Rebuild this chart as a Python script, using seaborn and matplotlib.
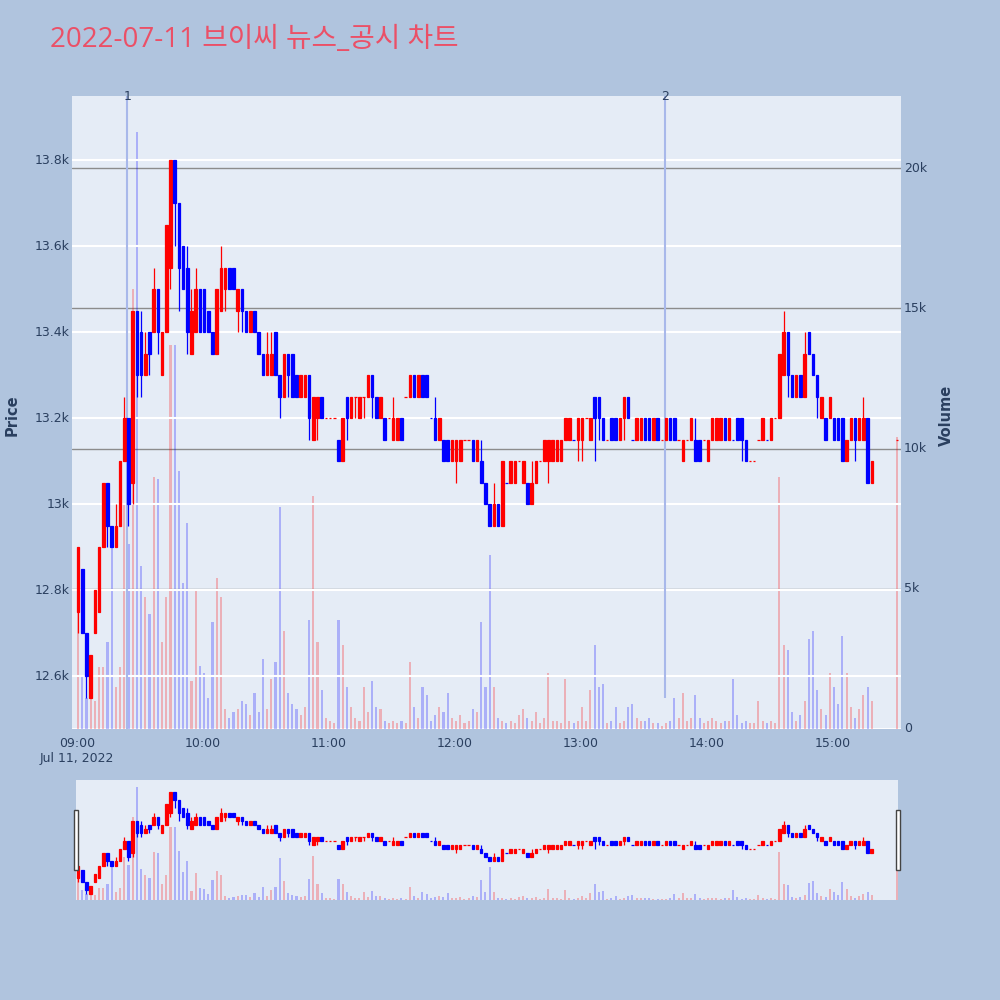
import matplotlib
matplotlib.use('Agg')
import matplotlib.pyplot as plt
from matplotlib.patches import Rectangle
import seaborn as sns

title = '2022-07-11 브이씨 뉴스_공시 차트'

# 2분봉, 09:00 기준 분 오프셋 (마지막은 15:30 동시호가)
minutes = list(range(0, 380, 2)) + [390]

opens = [
    # 09시
    12750, 12850, 12700, 12550, 12700, 12750, 12900, 13050, 12950, 12900,
    12950, 13100, 13200, 13050, 13450, 13400, 13300, 13400, 13400, 13500,
    13300, 13400, 13550, 13800, 13700, 13600, 13550, 13350, 13400, 13500,
    # 10시
    13500, 13450, 13400, 13350, 13450, 13500, 13550, 13550, 13450, 13500,
    13450, 13400, 13450, 13400, 13350, 13300, 13300, 13400, 13300, 13250,
    13350, 13350, 13300, 13250, 13250, 13300, 13150, 13200, 13250, 13200,
    # 11시
    13200, 13200, 13150, 13100, 13250, 13200, 13250, 13200, 13250, 13250,
    13300, 13250, 13200, 13200, 13200, 13150, 13150, 13200, 13250, 13250,
    13300, 13250, 13300, 13300, 13200, 13200, 13150, 13150, 13150, 13100,
    # 12시
    13100, 13100, 13150, 13150, 13150, 13100, 13100, 13050, 13000, 12950,
    13000, 12950, 13050, 13050, 13050, 13100, 13050, 13050, 13000, 13050,
    13100, 13100, 13100, 13100, 13100, 13100, 13150, 13150, 13150, 13150,
    # 13시
    13150, 13200, 13150, 13250, 13250, 13200, 13150, 13200, 13200, 13150,
    13200, 13250, 13150, 13150, 13150, 13200, 13200, 13150, 13200, 13150,
    13150, 13200, 13200, 13150, 13100, 13150, 13150, 13150, 13150, 13150,
    # 14시
    13100, 13150, 13150, 13150, 13200, 13150, 13150, 13200, 13200, 13150,
    13100, 13100, 13150, 13150, 13150, 13150, 13200, 13200, 13300, 13400,
    13300, 13250, 13300, 13250, 13400, 13350, 13300, 13200, 13200, 13200,
    # 15시
    13200, 13200, 13200, 13100, 13150, 13200, 13150, 13150, 13200, 13050,
    13150,
]
highs = [
    12900, 12850, 12700, 12650, 12800, 12900, 13050, 13050, 12950, 13000,
    13100, 13250, 13200, 13450, 13450, 13450, 13400, 13400, 13550, 13500,
    13400, 13650, 13800, 13800, 13700, 13600, 13600, 13500, 13550, 13500,
    13500, 13450, 13400, 13500, 13600, 13550, 13550, 13550, 13500, 13500,
    13450, 13450, 13450, 13400, 13350, 13400, 13400, 13400, 13300, 13350,
    13350, 13350, 13300, 13300, 13300, 13300, 13250, 13250, 13250, 13200,
    13200, 13200, 13150, 13200, 13250, 13250, 13250, 13250, 13250, 13300,
    13300, 13250, 13250, 13200, 13200, 13250, 13200, 13200, 13250, 13300,
    13300, 13300, 13300, 13300, 13200, 13250, 13200, 13150, 13150, 13150,
    13150, 13150, 13150, 13150, 13150, 13150, 13150, 13050, 13000, 13050,
    13000, 13100, 13050, 13100, 13100, 13100, 13100, 13050, 13100, 13100,
    13100, 13150, 13150, 13150, 13150, 13150, 13200, 13200, 13150, 13200,
    13200, 13200, 13200, 13250, 13250, 13200, 13150, 13200, 13200, 13200,
    13250, 13250, 13150, 13200, 13200, 13200, 13200, 13200, 13200, 13150,
    13200, 13200, 13200, 13150, 13150, 13150, 13200, 13200, 13150, 13150,
    13150, 13200, 13200, 13200, 13200, 13200, 13150, 13200, 13200, 13150,
    13100, 13100, 13150, 13200, 13150, 13200, 13200, 13350, 13450, 13400,
    13300, 13300, 13300, 13400, 13400, 13350, 13300, 13250, 13200, 13250,
    13200, 13200, 13200, 13150, 13200, 13200, 13200, 13250, 13200, 13100,
    13150,
]
lows = [
    12700, 12700, 12550, 12550, 12700, 12750, 12900, 12900, 12900, 12900,
    12950, 13100, 12950, 13000, 13250, 13250, 13300, 13300, 13400, 13350,
    13300, 13400, 13500, 13600, 13450, 13500, 13350, 13350, 13400, 13400,
    13400, 13400, 13350, 13350, 13450, 13450, 13500, 13500, 13400, 13400,
    13400, 13400, 13400, 13350, 13300, 13300, 13300, 13300, 13200, 13250,
    13250, 13250, 13250, 13250, 13250, 13150, 13150, 13150, 13200, 13200,
    13200, 13200, 13100, 13100, 13150, 13200, 13200, 13200, 13200, 13250,
    13200, 13200, 13200, 13150, 13200, 13150, 13150, 13150, 13250, 13250,
    13250, 13250, 13250, 13250, 13200, 13150, 13150, 13100, 13100, 13100,
    13050, 13100, 13150, 13150, 13100, 13100, 13050, 13000, 12950, 12950,
    12950, 12950, 13050, 13050, 13050, 13100, 13050, 13000, 13000, 13050,
    13100, 13100, 13050, 13100, 13100, 13100, 13150, 13150, 13150, 13100,
    13100, 13200, 13150, 13100, 13150, 13150, 13150, 13150, 13150, 13150,
    13150, 13200, 13150, 13150, 13150, 13150, 13150, 13150, 13150, 13150,
    13150, 13150, 13150, 13150, 13100, 13150, 13150, 13100, 13100, 13150,
    13100, 13150, 13150, 13150, 13150, 13150, 13150, 13150, 13100, 13100,
    13100, 13100, 13150, 13150, 13150, 13150, 13200, 13200, 13300, 13250,
    13250, 13250, 13250, 13250, 13350, 13300, 13200, 13200, 13150, 13200,
    13150, 13150, 13100, 13100, 13150, 13100, 13150, 13150, 13050, 13050,
    13150,
]
closes = [
    12900, 12700, 12600, 12650, 12800, 12900, 13050, 12950, 12900, 12950,
    13100, 13200, 13000, 13450, 13300, 13300, 13350, 13350, 13500, 13400,
    13400, 13650, 13800, 13700, 13550, 13500, 13400, 13450, 13500, 13400,
    13400, 13400, 13350, 13500, 13550, 13550, 13500, 13500, 13500, 13450,
    13400, 13450, 13400, 13350, 13300, 13350, 13350, 13300, 13250, 13350,
    13300, 13250, 13250, 13300, 13300, 13200, 13250, 13250, 13200, 13200,
    13200, 13200, 13100, 13200, 13200, 13250, 13250, 13250, 13250, 13300,
    13250, 13200, 13250, 13150, 13200, 13200, 13200, 13150, 13250, 13300,
    13250, 13300, 13250, 13250, 13200, 13150, 13200, 13100, 13100, 13150,
    13150, 13150, 13150, 13150, 13100, 13150, 13050, 13000, 12950, 13000,
    12950, 13100, 13050, 13100, 13100, 13100, 13100, 13000, 13050, 13100,
    13100, 13150, 13150, 13150, 13150, 13150, 13200, 13200, 13150, 13200,
    13200, 13200, 13200, 13200, 13200, 13150, 13150, 13150, 13150, 13200,
    13250, 13200, 13150, 13200, 13200, 13150, 13150, 13200, 13150, 13150,
    13200, 13150, 13150, 13150, 13150, 13150, 13200, 13100, 13100, 13150,
    13150, 13200, 13200, 13200, 13150, 13200, 13150, 13150, 13150, 13100,
    13100, 13100, 13150, 13200, 13150, 13200, 13200, 13350, 13400, 13300,
    13250, 13300, 13250, 13350, 13350, 13300, 13250, 13250, 13150, 13250,
    13150, 13150, 13100, 13150, 13200, 13150, 13200, 13200, 13050, 13100,
    13150,
]
volumes = [
    4300, 1900, 1100, 1200, 1000, 2200, 2200, 3100, 6800, 1500,
    2200, 8000, 6600, 15700, 21300, 5800, 4700, 4100, 9000, 8900,
    3100, 4700, 13700, 13700, 9200, 5200, 7350, 1700, 5000, 2250,
    2000, 1100, 3800, 5400, 4700, 700, 400, 600, 700, 1000,
    900, 500, 1300, 600, 2500, 700, 1800, 2400, 7900, 3500,
    1300, 900, 700, 500, 800, 3900, 8300, 3100, 1400, 400,
    300, 200, 3900, 3000, 1500, 800, 400, 300, 1500, 600,
    1700, 800, 700, 300, 200, 300, 200, 300, 200, 2400,
    800, 400, 1500, 1200, 300, 500, 800, 600, 1300, 400,
    300, 500, 200, 300, 700, 600, 3800, 1500, 6200, 1500,
    400, 300, 200, 300, 200, 500, 700, 400, 300, 600,
    200, 400, 2000, 300, 300, 200, 1800, 300, 200, 300,
    800, 300, 1400, 3000, 1500, 1600, 200, 300, 800, 200,
    300, 800, 900, 400, 300, 300, 400, 200, 200, 100,
    200, 300, 1100, 400, 1300, 300, 400, 1200, 400, 200,
    300, 400, 300, 200, 300, 300, 1800, 500, 200, 300,
    200, 200, 1000, 300, 200, 300, 200, 9000, 3000, 2800,
    600, 300, 500, 1000, 3200, 3500, 1400, 700, 500, 2000,
    1500, 900, 3300, 2000, 800, 400, 700, 1200, 1500, 1000,
    10400,
]

event_minutes = [24, 280]
event_labels = ['1', '2']
event_lows = [12300, 12550]

tick_minutes = [0, 60, 120, 180, 240, 300, 360]
tick_labels = ['09:00\nJul 11, 2022', '10:00', '11:00', '12:00', '13:00', '14:00', '15:00']
price_ticks = [12600, 12800, 13000, 13200, 13400, 13600, 13800]
price_labels = ['12.6k', '12.8k', '13k', '13.2k', '13.4k', '13.6k', '13.8k']
vol_ticks = [0, 5000, 10000, 15000, 20000]
vol_labels = ['0', '5k', '10k', '15k', '20k']

RED = '#FF0000'
BLUE = '#0000FF'
TXT = '#2a3f5f'

sns.set_theme(style='white')
plt.rcParams['font.family'] = ['DejaVu Sans', 'Noto Sans CJK KR']

# 방향 (같으면 이전 종가와 비교)
colors = []
prev = opens[0]
for o, c in zip(opens, closes):
    up = c > o or (c == o and c >= prev)
    colors.append(RED if up else BLUE)
    prev = c
xs = [m + 0.5 for m in minutes]


def draw_candles(ax, body_w, wick_w):
    for x, o, h, l, c, col in zip(xs, opens, highs, lows, closes, colors):
        ax.vlines(x, l, h, color=col, lw=wick_w, zorder=3)
    ax.bar(xs, [c - o for o, c in zip(opens, closes)], bottom=opens, width=body_w,
           color=colors, edgecolor=colors, linewidth=wick_w, zorder=4)


fig = plt.figure(figsize=(10, 10), dpi=100)
fig.patch.set_facecolor('#B0C4DE')

# 메인 차트
ax_v = fig.add_axes([0.072, 0.271, 0.829, 0.633])
ax_v.set_facecolor('#E5ECF6')
ax_p = ax_v.twinx()

ax_v.bar(xs, volumes, width=1.0, color=colors, alpha=0.25, linewidth=0, zorder=2)
ax_v.set_ylim(0, 22570)
ax_v.set_xlim(-2.4, 392.4)
for v in vol_ticks[1:]:
    ax_v.axhline(v, color='#8c8c8c', lw=1, zorder=1)
ax_v.axhline(0, color='white', lw=2, zorder=1)
ax_v.set_xticks(tick_minutes)
ax_v.set_xticklabels(tick_labels)
ax_v.tick_params(axis='x', length=0, pad=6, labelsize=9, labelcolor=TXT)
ax_v.set_yticks([])
for s in ax_v.spines.values():
    s.set_visible(False)

ax_p.set_ylim(12477, 13949)
ax_p.set_xlim(-2.4, 392.4)
ax_p.set_yticks([])
for p in price_ticks:
    ax_p.axhline(p, color='white', lw=1.5, zorder=0)
for s in ax_p.spines.values():
    s.set_visible(False)
for m, lab, lo in zip(event_minutes, event_labels, event_lows):
    ax_p.vlines(m, lo, 13949, color='#A8B8EA', lw=1.5, zorder=2)
    ax_p.text(m, 13949, lab, ha='center', va='center', fontsize=9, color=TXT)
draw_candles(ax_p, 1.2, 0.9)

# 축 눈금 라벨 (왼쪽 가격, 오른쪽 거래량)
for p, lab in zip(price_ticks, price_labels):
    ax_p.annotate(lab, xy=(0, p), xycoords=('axes fraction', 'data'), xytext=(-2, 0),
                  textcoords='offset points', ha='right', va='center', fontsize=9, color=TXT)
for v, lab in zip(vol_ticks, vol_labels):
    ax_v.annotate(lab, xy=(1, v), xycoords=('axes fraction', 'data'), xytext=(2, 0),
                  textcoords='offset points', ha='left', va='center', fontsize=9, color=TXT)

fig.text(0.012, 0.585, 'Price', rotation=90, ha='center', va='center',
         fontsize=10.5, fontweight='bold', color=TXT)
fig.text(0.946, 0.585, 'Volume', rotation=90, ha='center', va='center',
         fontsize=10.5, fontweight='bold', color=TXT)
fig.text(0.05, 0.96, title, ha='left', va='center', fontsize=20, color='#EB5067',
         family=['Open Sans', 'Noto Sans CJK KR'])

# 레인지 슬라이더
ax_sv = fig.add_axes([0.076, 0.100, 0.822, 0.120])
ax_sv.set_facecolor('#E5ECF6')
ax_sp = ax_sv.twinx()
ax_sv.bar(xs, volumes, width=1.0, color=colors, alpha=0.25, linewidth=0)
ax_sv.set_ylim(0, 22570)
ax_sv.set_xlim(-0.5, 391)
ax_sv.set_xticks([])
ax_sv.set_yticks([])
for s in ax_sv.spines.values():
    s.set_visible(False)
ax_sp.set_ylim(12477, 13949)
ax_sp.set_xlim(-0.5, 391)
ax_sp.set_yticks([])
for s in ax_sp.spines.values():
    s.set_visible(False)
draw_candles(ax_sp, 1.2, 0.9)

for hx in [0.0735, 0.8955]:
    fig.patches.append(Rectangle((hx, 0.130), 0.004, 0.060, transform=fig.transFigure,
                                 facecolor='white', edgecolor='#444444', lw=1))

fig.savefig('out.png', dpi=100, facecolor=fig.get_facecolor())
